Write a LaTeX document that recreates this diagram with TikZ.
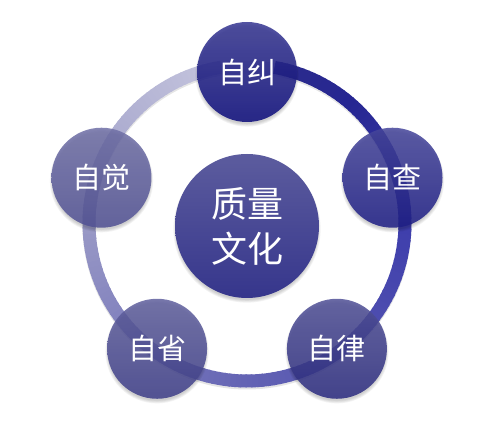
\documentclass[tikz,border=0pt]{standalone}
\usepackage{fontspec}
\newfontfamily\cjk{Noto Sans CJK SC}
\usetikzlibrary{calc}
\definecolor{rs0}{RGB}{44,44,140}
\definecolor{rs1}{RGB}{38,38,146}
\definecolor{rs2}{RGB}{62,62,172}
\definecolor{rs3}{RGB}{100,100,180}
\definecolor{rs4}{RGB}{154,154,198}
\definecolor{rs5}{RGB}{198,198,222}
\definecolor{cjiu}{RGB}{12,12,123}
\definecolor{ccha}{RGB}{30,30,133}
\definecolor{clv}{RGB}{44,44,128}
\definecolor{cxing}{RGB}{63,63,137}
\definecolor{cjue}{RGB}{81,81,147}
\definecolor{ctop}{RGB}{92,92,158}
\definecolor{cbot}{RGB}{54,54,140}
\tikzset{
  ringline/.style={line width=13pt, line cap=butt},
  bub/.style={circle, minimum size=100pt, inner sep=0pt, fill opacity=0.86,
    text opacity=1, text=white, font=\cjk\fontsize{29}{31}\selectfont,
    top color=#1!82!white, bottom color=#1},
  hub/.style={circle, minimum size=144pt, inner sep=0pt, text=white,
    top color=ctop, bottom color=cbot, align=center,
    font=\cjk\fontsize{36}{45}\selectfont},
  softshadow/.style={black, opacity=0.05}
}
\newcommand\ringpart[4]{%
  \pgfmathtruncatemacro\ringn{(#1-(#2))/2-1}%
  \foreach \i in {0,...,\ringn}{%
    \pgfmathsetmacro\ringang{#1-2*\i}%
    \pgfmathsetmacro\ringpct{100-100*2*\i/(#1-(#2))}%
    \draw[ringline, draw=#3!\ringpct!#4] (R) ++(\ringang:158) arc[start angle=\ringang, end angle=\ringang-2.6, radius=158];
  }}
\newcommand\bubshadow[2]{%
  \foreach \k in {1,...,4}{\fill[softshadow] ([yshift=-3pt]#1) circle ({#2-2+\k*0.9});}}
\begin{document}
\begin{tikzpicture}[x=1pt,y=1pt]
\useasboundingbox (0,0) rectangle (490,425);
\coordinate (O) at (247,200);
\coordinate (R) at (247,202);
% ring shadow
\draw[line width=13pt, black, opacity=0.10] ([yshift=-2pt]R) circle (158);
% ring with colour gradient
\ringpart{80}{50}{rs0}{rs1}
\ringpart{50}{0}{rs1}{rs2}
\ringpart{0}{-90}{rs2}{rs3}
\ringpart{-90}{-180}{rs3}{rs4}
\ringpart{-180}{-260}{rs4}{rs5}
% positions
\coordinate (p1) at ($(O)+(90:153)$);
\coordinate (p2) at ($(O)+(18:153)$);
\coordinate (p3) at ($(O)+(-54:153)$);
\coordinate (p4) at ($(O)+(-126:153)$);
\coordinate (p5) at ($(O)+(162:153)$);
\coordinate (pc) at (247,199);
% shadows
\bubshadow{pc}{72}
\bubshadow{p1}{50}
\bubshadow{p2}{50}
\bubshadow{p3}{50}
\bubshadow{p4}{50}
\bubshadow{p5}{50}
% circles
\node[hub] (center) at (pc) {质量\\文化};
\node[bub=cjiu] (jiu) at (p1) {自纠};
\node[bub=ccha] (cha) at (p2) {自查};
\node[bub=clv] (lv) at (p3) {自律};
\node[bub=cxing] (xing) at (p4) {自省};
\node[bub=cjue] (jue) at (p5) {自觉};
\end{tikzpicture}
\end{document}
